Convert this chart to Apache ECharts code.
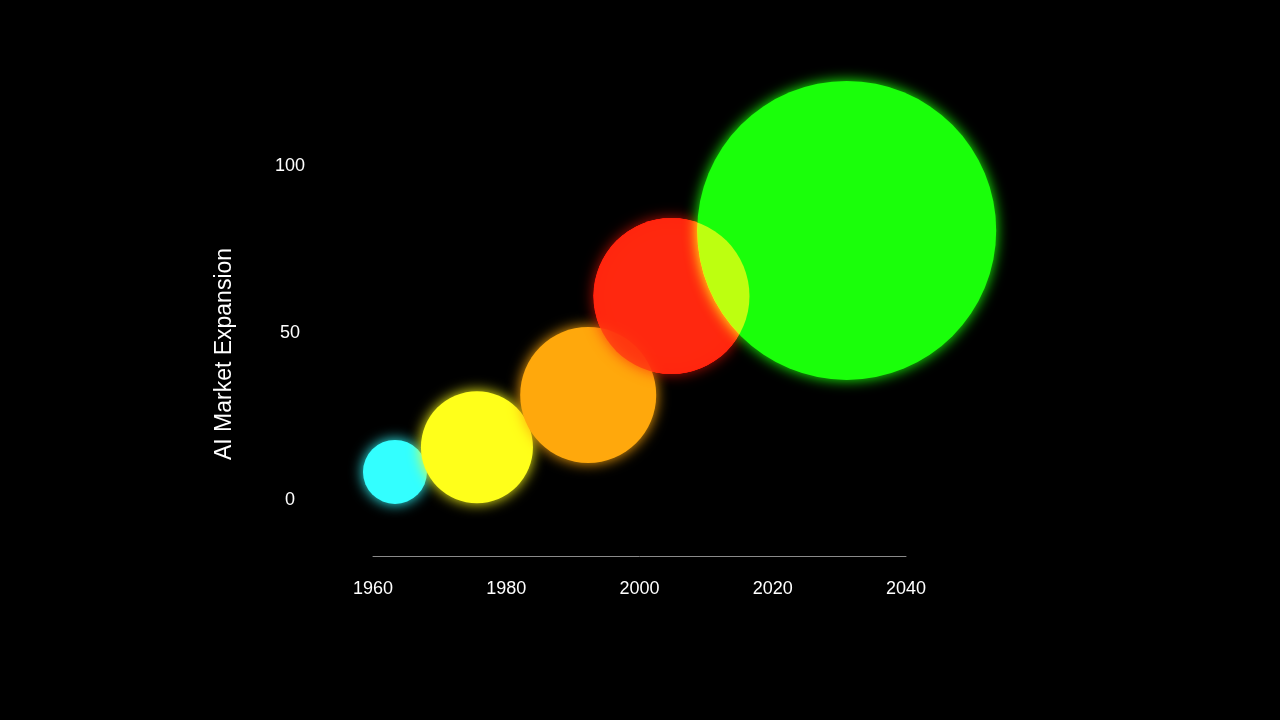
<!DOCTYPE html>
<html>
<head>
<meta charset="utf-8">
<title>AI Market Expansion</title>
<script src="https://cdn.jsdelivr.net/npm/echarts@6/dist/echarts.min.js"></script>
<style>
  html, body { margin: 0; padding: 0; background: #000; }
  #chart { width: 1280px; height: 720px; }
</style>
</head>
<body>
<div id="chart"></div>
<script>
  // bubble data
  var years = [1963.3, 1975.6, 1992.3, 2004.8, 2031.1];
  var expansion = [8.4, 15.8, 31.4, 61, 80.6];
  var bubbleSize = [64, 112, 136, 156, 299];
  var xTicks = [1960, 1980, 2000, 2020, 2040];
  var yTicks = [0, 50, 100];

  // look of each bubble
  var colors = ['#33ffff', '#ffff1a', '#ffa80c', '#ff1a0a', '#1aff0a'];
  var baseOpacity = [1, 1, 1, 0.7, 1];
  var lightOpacity = [0, 0, 0, 0.64, 0];

  function makePoints(opacities, glow) {
    return years.map(function (x, i) {
      return {
        value: [x, expansion[i], bubbleSize[i]],
        itemStyle: {
          color: colors[i],
          opacity: opacities[i],
          shadowBlur: glow ? 14 : 0,
          shadowColor: colors[i]
        }
      };
    });
  }

  var font = '"Liberation Sans", Arial, Helvetica, sans-serif';
  var myChart = echarts.init(document.getElementById('chart'));
  var option = {
    backgroundColor: '#000',
    animation: false,
    grid: { left: 373, right: 374, top: 82, bottom: 220 },
    xAxis: {
      type: 'value',
      min: xTicks[0],
      max: xTicks[xTicks.length - 1],
      interval: 20,
      offset: 56,
      splitLine: { show: false },
      axisTick: { show: false },
      axisLine: { show: true, onZero: false, lineStyle: { color: '#8a8a8a', width: 1 } },
      axisLabel: {
        color: '#fff', fontSize: 18, fontFamily: font, margin: 24,
        formatter: function (v) { return xTicks.indexOf(v) >= 0 ? String(v) : ''; }
      }
    },
    yAxis: {
      type: 'value',
      min: 0,
      max: 125,
      interval: 50,
      splitLine: { show: false },
      axisTick: { show: false },
      axisLine: { show: false },
      axisLabel: {
        color: '#fff', fontSize: 18, fontFamily: font, margin: 83, align: 'center',
        showMaxLabel: false,
        formatter: function (v) { return yTicks.indexOf(v) >= 0 ? String(v) : ''; }
      }
    },
    graphic: [{
      type: 'text',
      x: 225,
      y: 354,
      rotation: Math.PI / 2,
      style: {
        text: 'AI Market Expansion',
        fill: '#fff',
        font: '23px ' + font,
        align: 'center',
        verticalAlign: 'middle'
      }
    }],
    series: [{
      // base bubbles with glow
      type: 'scatter',
      clip: false,
      data: makePoints(baseOpacity, true),
      symbolSize: function (d) { return d[2]; }
    }, {
      // additive light layer for the overlaps
      type: 'scatter',
      clip: false,
      blendMode: 'lighter',
      silent: true,
      data: makePoints(lightOpacity, false),
      symbolSize: function (d) { return d[2]; }
    }]
  };
  myChart.setOption(option, true);
  window.addEventListener('resize', function () { myChart.resize(); });
</script>
</body>
</html>
